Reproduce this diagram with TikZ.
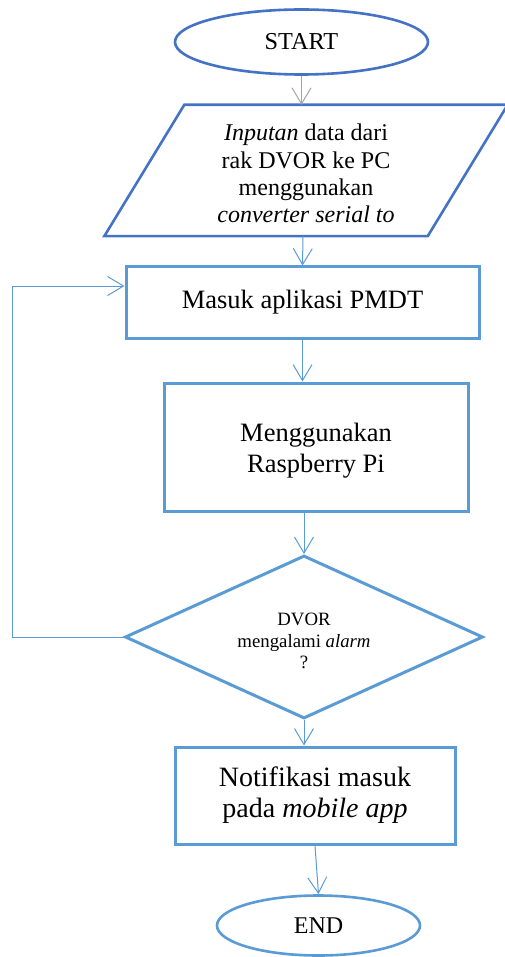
\documentclass[tikz,border=0pt]{standalone}
\usepackage{fontspec}
\setmainfont{Liberation Serif}
\usetikzlibrary{arrows.meta,shapes.geometric}
\definecolor{darkblue}{HTML}{4472C4}
\definecolor{lightblue}{HTML}{5B9BD5}
\definecolor{arrowgray}{HTML}{A5A5A5}
% a taller first line lowers a centred text block by half the extra height
\newcommand{\lowerby}[1]{\rule{0pt}{#1}}
\begin{document}
\begin{tikzpicture}[x=1pt,y=-1pt,
  terminal/.style={ellipse, line width=2.6pt, inner sep=0pt, fill=white},
  flowbox/.style={rectangle, draw=lightblue, line width=3pt, inner sep=0pt, align=center},
  decision/.style={diamond, draw=lightblue, line width=3pt, inner sep=0pt, shape aspect=2.2, align=center},
  flowarrow/.style={draw=lightblue, line width=1pt, -{Straight Barb[length=16pt,width=19pt]}},
  grayarrow/.style={flowarrow, draw=arrowgray}]
\useasboundingbox (0,0) rectangle (505,957);

% terminals, process boxes and decision
\node[terminal, draw=darkblue, minimum width=253pt, minimum height=65pt,
      font=\fontsize{24.3}{28}\selectfont] (start) at (301.5,42) {START};

\node[rectangle, inner sep=0pt, minimum width=323pt, minimum height=131pt, align=center,
      font=\fontsize{24}{27.3}\selectfont] (inp) at (306,170.5)
  {\lowerby{23pt}\textit{Inputan} data dari\\rak DVOR ke PC\\menggunakan\\\textit{converter serial to}};
\draw[darkblue, line width=2.6pt, line join=miter]
  ([xshift=40pt]inp.north west) -- ([xshift=40pt]inp.north east)
  -- ([xshift=-40pt]inp.south east) -- ([xshift=-40pt]inp.south west) -- cycle;

\node[flowbox, minimum width=353pt, minimum height=71pt,
      font=\fontsize{26.5}{31}\selectfont] (pmdt) at (302.5,302.5) {Masuk aplikasi PMDT};

\node[flowbox, minimum width=304pt, minimum height=128pt,
      font=\fontsize{26.5}{31}\selectfont] (rpi) at (316,447) {\lowerby{26pt}Menggunakan\\Raspberry Pi};

\node[decision, minimum width=358pt, minimum height=163pt,
      font=\fontsize{18.8}{21.5}\selectfont] (alarm) at (304,637)
  {\lowerby{21pt}DVOR\\mengalami \textit{alarm}\\?};

\node[flowbox, minimum width=280pt, minimum height=97pt,
      font=\fontsize{28}{31}\selectfont] (notif) at (315,795.5)
  {Notifikasi masuk\\pada \textit{mobile app}};

\node[terminal, draw=lightblue, minimum width=203pt, minimum height=60pt,
      font=\fontsize{24}{28}\selectfont] (end) at (318.5,925.5) {END};

% connectors
\draw[grayarrow] (start.south) -- (start.south |- inp.north);
\draw[flowarrow] ([xshift=-3pt]inp.south) -- (pmdt.north);
\draw[flowarrow] (pmdt.south) -- (pmdt.south |- rpi.north);
\draw[flowarrow] (alarm.north |- rpi.south) -- (alarm.north);
\draw[flowarrow] (alarm.south) -- (alarm.south |- notif.north);
\draw[flowarrow] (notif.south) -- (end.north);

% loop back from the decision
\coordinate (loopc) at (12,286);
\draw[flowarrow] (alarm.west) -| (loopc) -- (pmdt.west |- loopc);
\end{tikzpicture}
\end{document}
